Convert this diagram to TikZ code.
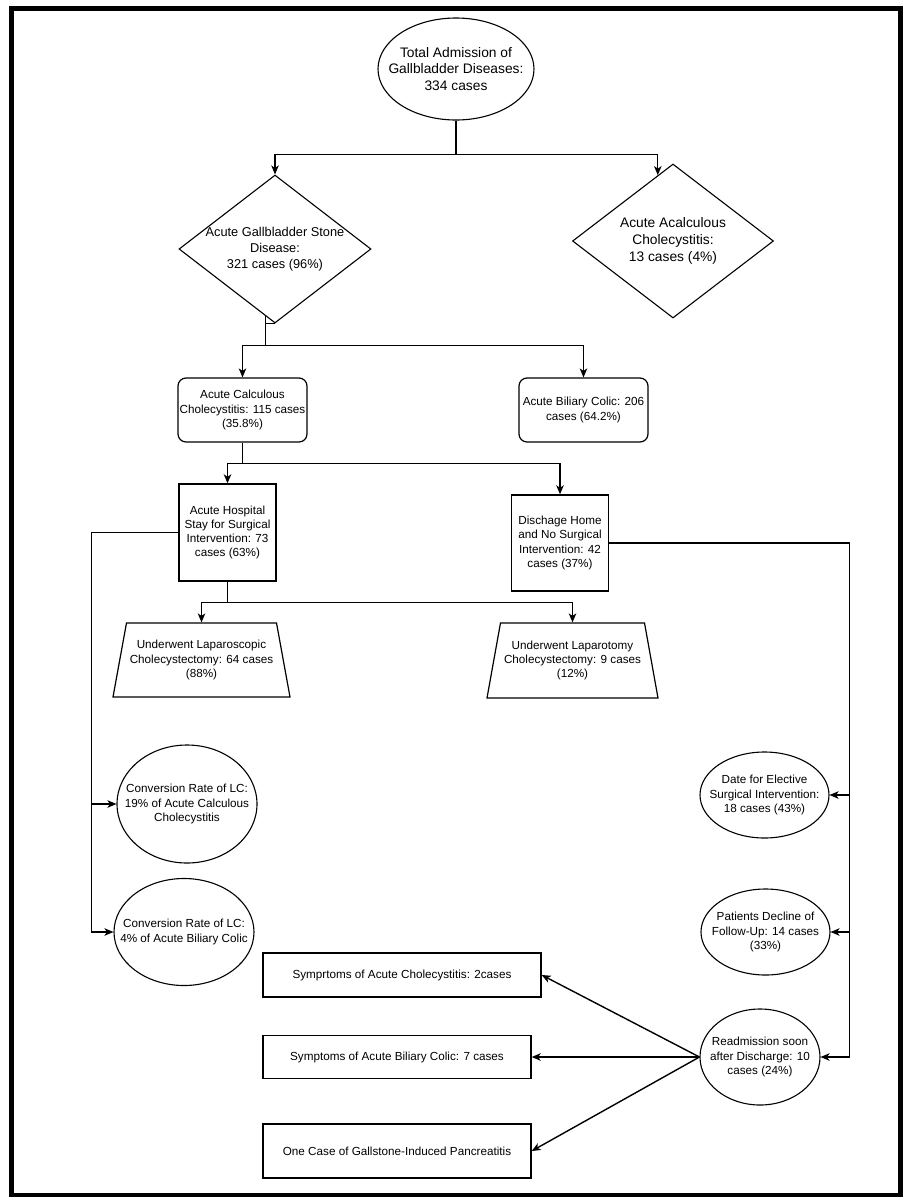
\documentclass[tikz,border=0pt]{standalone}
\usepackage{fontspec}
\setmainfont{Liberation Sans}
\usetikzlibrary{shapes.geometric,arrows.meta}
\tikzset{
  bigtext/.style={font=\fontsize{13.8}{16.7}\selectfont, align=center},
  midtext/.style={font=\fontsize{12.8}{16}\selectfont, align=center},
  smalltext/.style={font=\fontsize{11.7}{14.3}\selectfont, align=center},
  oval/.style={ellipse, draw, line width=1.1pt, inner xsep=-16pt, inner ysep=0pt},
  decision/.style={diamond, aspect=1.3, draw, line width=1.1pt, inner sep=0pt},
  roundbox/.style={rectangle, rounded corners=8pt, draw, line width=1.2pt, inner sep=1pt},
  plainbox/.style={rectangle, draw, line width=1.4pt, inner sep=1pt},
  trapbox/.style={trapezium, trapezium left angle=72, trapezium right angle=72,
    trapezium stretches body, draw, line width=1.2pt, inner sep=1pt},
  link/.style={line width=1.4pt},
  flow/.style={line width=1.4pt, -{Stealth[length=9pt,width=7.5pt,inset=2.5pt]}}
}
\begin{document}
\begin{tikzpicture}[x=1pt,y=-1pt]
  \useasboundingbox (0,0) rectangle (907,1200);
  \draw[line width=4.5pt] (11.5,8.5) rectangle (900.5,1195);

  % admissions and the two stone groups
  \node[oval, bigtext, minimum width=156pt, minimum height=102pt] (tot) at (456,69)
    {Total Admission of\\Gallbladder Diseases:\\334 cases};
  \node[decision, midtext, inner xsep=-4pt, minimum width=192pt, minimum height=148pt] (gs) at (275,249)
    {Acute Gallbladder Stone\\Disease:\\321 cases (96\%)};
  \node[decision, bigtext, minimum width=201pt, minimum height=154pt] (aac) at (673,241)
    {Acute Acalculous\\Cholecystitis:\\13 cases (4\%)};

  \node[roundbox, smalltext, minimum width=129pt, minimum height=64pt] (acc) at (242.5,410)
    {Acute Calculous\\Cholecystitis: 115 cases\\(35.8\%)};
  \node[roundbox, smalltext, minimum width=129pt, minimum height=64pt] (abc) at (583.5,410)
    {Acute Biliary Colic: 206\\cases (64.2\%)};

  \node[plainbox, smalltext, minimum width=97pt, minimum height=97pt] (hosp) at (227.5,532.5)
    {Acute Hospital\\Stay for Surgical\\Intervention: 73\\cases (63\%)};
  \node[plainbox, smalltext, minimum width=97pt, minimum height=96pt] (dis) at (560,543)
    {Dischage Home\\and No Surgical\\Intervention: 42\\cases (37\%)};

  \node[trapbox, smalltext, minimum width=177pt, minimum height=74pt] (lap) at (201.5,660)
    {Underwent Laparoscopic\\Cholecystectomy: 64 cases\\(88\%)};
  \node[trapbox, smalltext, minimum width=171pt, minimum height=75pt] (lapt) at (572.5,660.5)
    {Underwent Laparotomy\\Cholecystectomy: 9 cases\\(12\%)};

  % conversion rates
  \node[oval, smalltext, minimum width=140pt, minimum height=118pt] (conv1) at (187,804)
    {Conversion Rate of LC:\\19\% of Acute Calculous\\Cholecystitis};
  \node[oval, smalltext, minimum width=140pt, minimum height=107pt] (conv2) at (184,932)
    {Conversion Rate of LC:\\4\% of Acute Biliary Colic};

  % after discharge
  \node[oval, smalltext, minimum width=129pt, minimum height=86pt] (elect) at (764.5,795)
    {Date for Elective\\Surgical Intervention:\\18 cases (43\%)};
  \node[oval, smalltext, minimum width=129pt, minimum height=86pt] (decl) at (765.5,932)
    {Patients Decline of\\Follow-Up: 14 cases\\(33\%)};
  \node[oval, smalltext, minimum width=120pt, minimum height=96pt] (readm) at (760,1057)
    {Readmission soon\\after Discharge: 10\\cases (24\%)};

  \node[plainbox, smalltext, minimum width=278pt, minimum height=44pt] (sym1) at (402,975)
    {Symprtoms of Acute Cholecystitis: 2cases};
  \node[plainbox, smalltext, minimum width=268pt, minimum height=43pt] (sym2) at (397,1057)
    {Symptoms of Acute Biliary Colic: 7 cases};
  \node[plainbox, smalltext, minimum width=268pt, minimum height=54pt] (panc) at (397,1151)
    {One Case of Gallstone-Induced Pancreatitis};

  % connectors
  \draw[flow] (tot.south) -- ++(0,34) -| (gs.north);
  \draw[flow] (tot.south) -- ++(0,34) -| (aac.103);
  \draw[link] (gs.south) -- ++(-10,0);
  \draw[link] (gs.-98.6) -- ++(0,29) coordinate (gsfork);
  \draw[flow] (gsfork) -| (acc.north);
  \draw[flow] (gsfork) -| (abc.north);
  \draw[flow] (acc.south) -- ++(0,21) -| (hosp.north);
  \draw[flow] (acc.south) -- ++(0,21) -| (dis.north);
  \draw[flow] (hosp.south) -- ++(0,21) -| (lap.north);
  \draw[flow] (hosp.south) -- ++(0,21) -| (lapt.north);
  \draw[flow] (hosp.west) -- ++(-87,0) |- (conv1.west);
  \draw[flow] (hosp.west) -- ++(-87,0) |- (conv2.west);
  \draw[flow] (dis.east) -- ++(240.5,0) |- (elect.east);
  \draw[flow] (dis.east) -- ++(240.5,0) |- (decl.east);
  \draw[flow] (dis.east) -- ++(240.5,0) |- (readm.east);
  \draw[flow] (readm.west) -- (sym1.east);
  \draw[flow] (readm.west) -- (sym2.east);
  \draw[flow] (readm.west) -- (panc.east);
\end{tikzpicture}
\end{document}
